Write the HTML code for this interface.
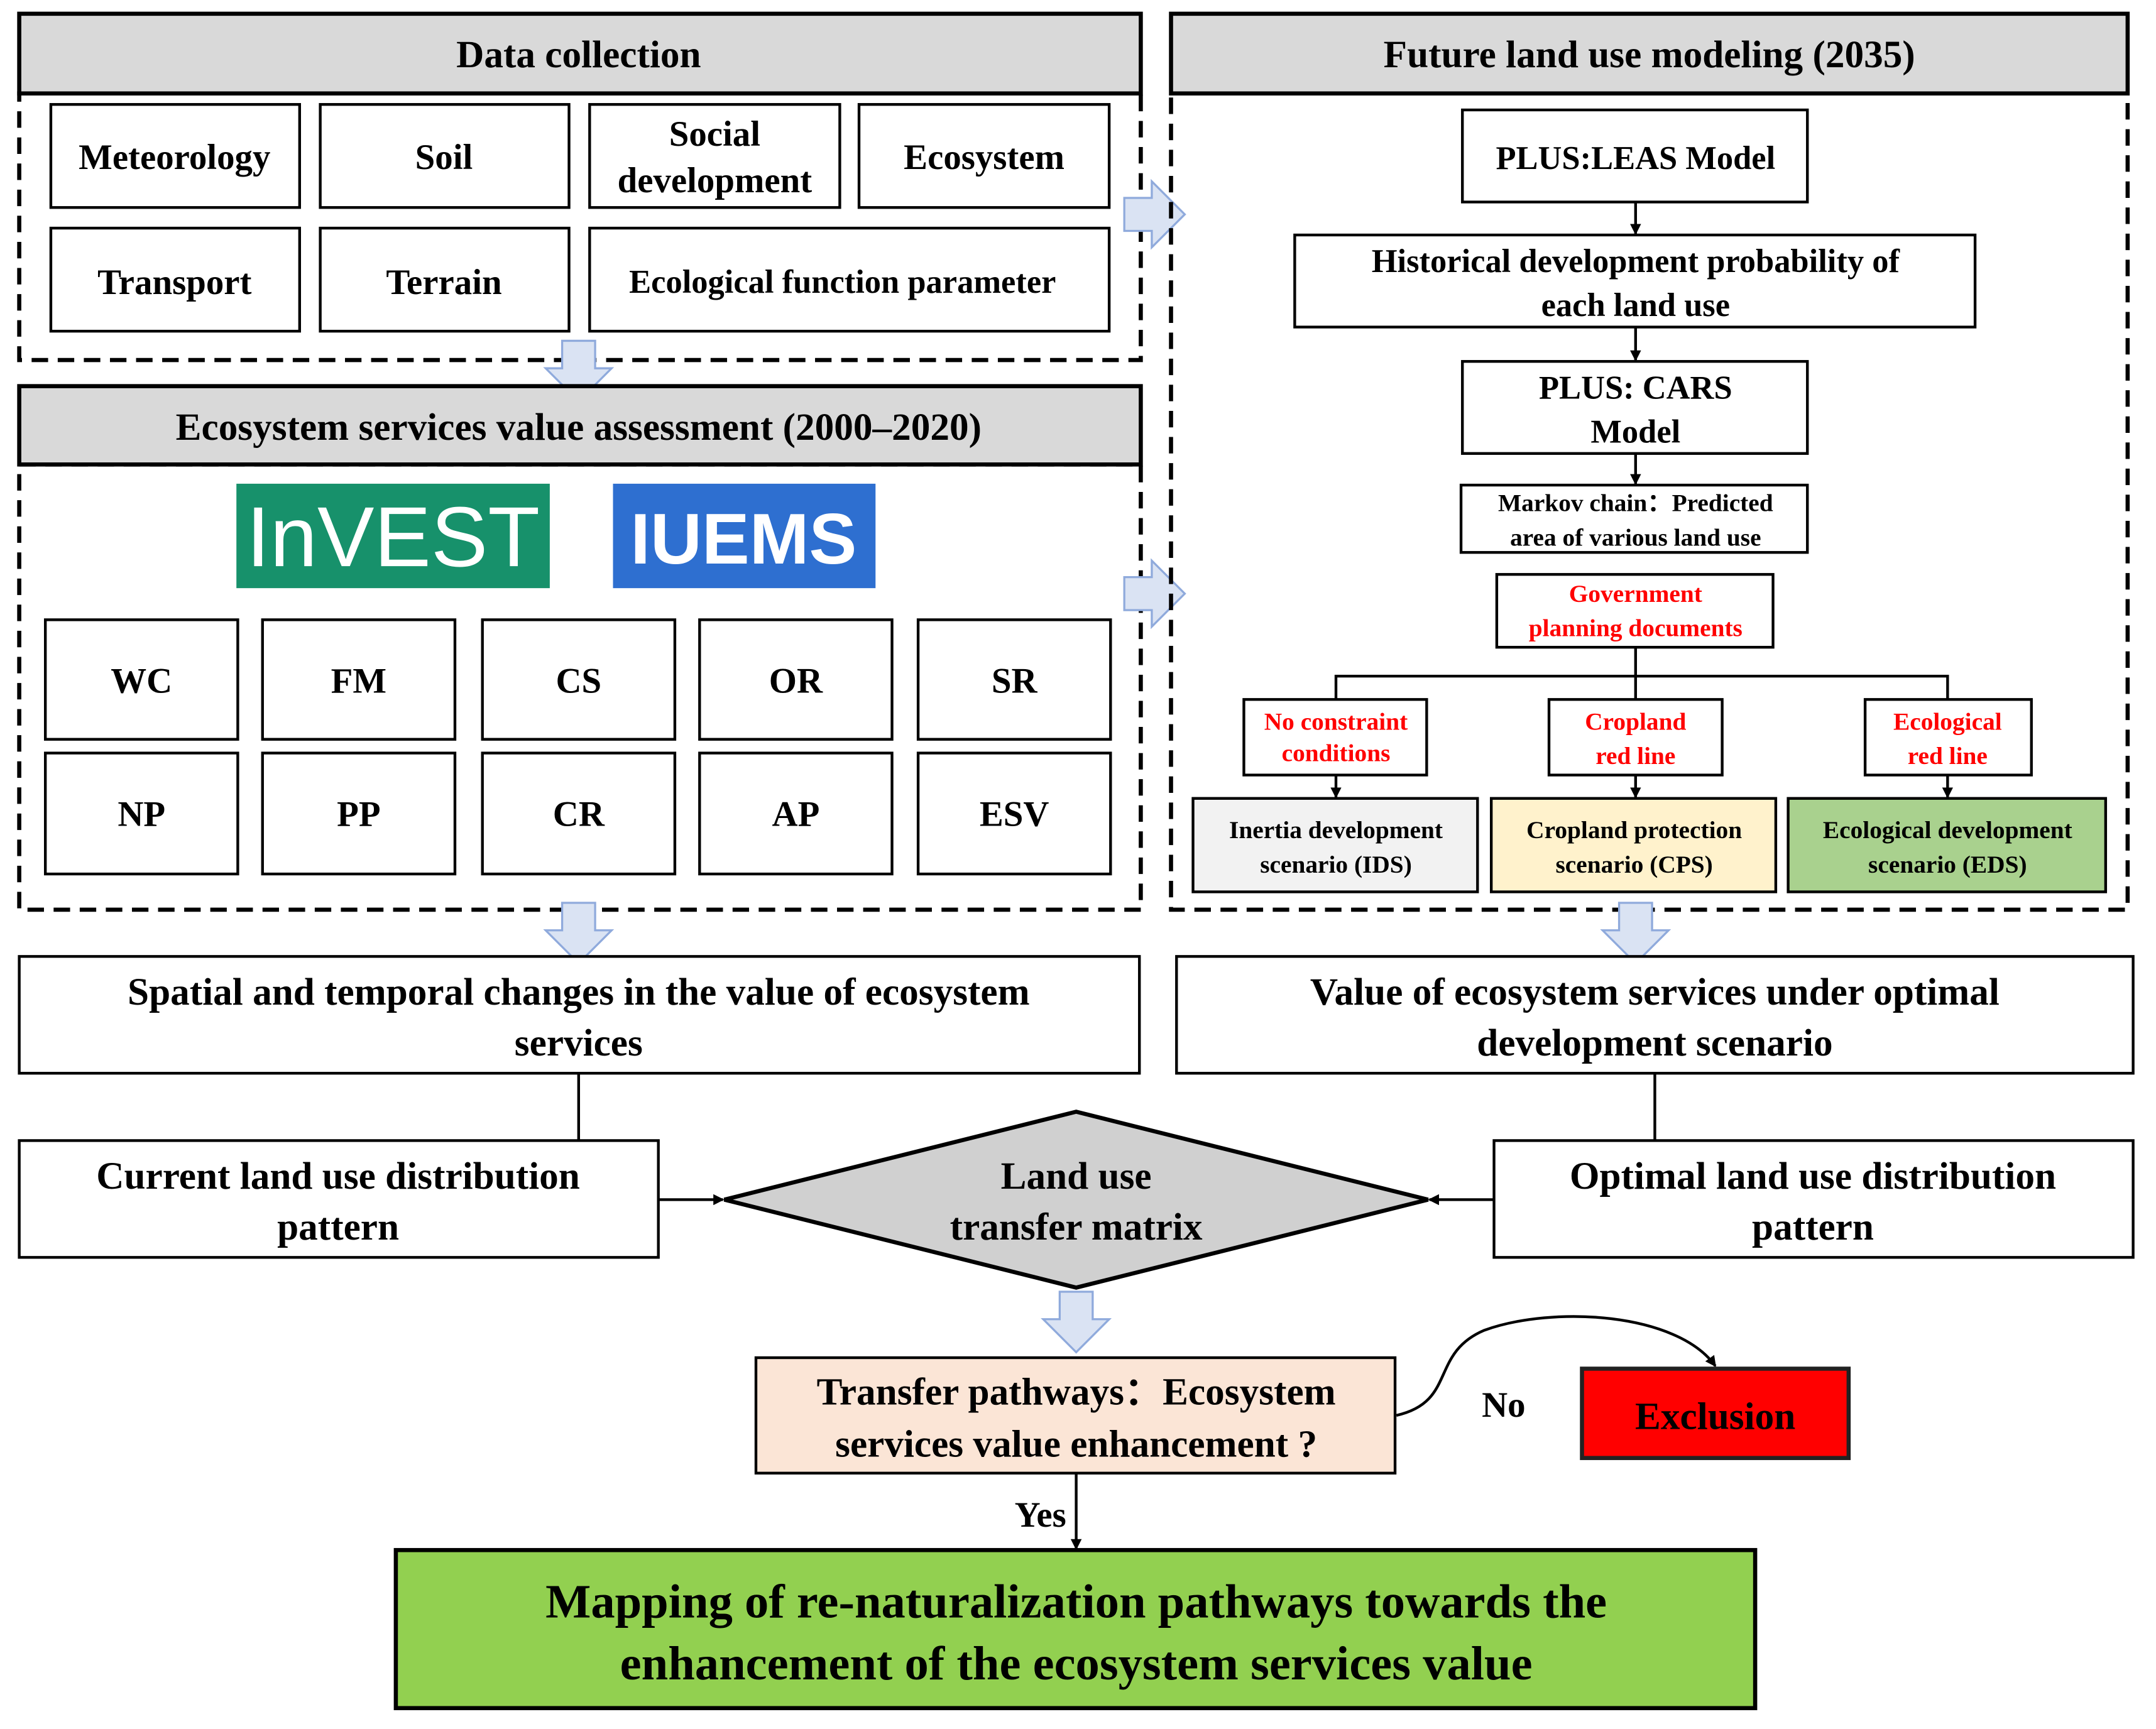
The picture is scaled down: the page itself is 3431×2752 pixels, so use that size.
<!DOCTYPE html>
<html><head><meta charset="utf-8"><style>
html,body{margin:0;padding:0;background:#fff;}
svg{display:block;}
text{font-family:"Liberation Serif",serif;font-weight:bold;fill:#000;text-anchor:middle;}
</style></head><body>
<svg width="3431" height="2752" viewBox="0 0 1568.6 1258.2" preserveAspectRatio="xMinYMin meet" xmlns="http://www.w3.org/2000/svg">
<defs>
<marker id="ah" markerWidth="8" markerHeight="8" refX="7" refY="4" orient="auto" markerUnits="userSpaceOnUse"><path d="M0,0 L8,4 L0,8 Z" fill="#000"/></marker>
<g id="dn"><path d="M-12,0 L12,0 L12,20 L24,20 L0,44 L-24,20 L-12,20 Z" fill="#dae3f3" stroke="#8faadc" stroke-width="1.5"/></g>
<g id="rt"><path d="M0,-12 L20,-12 L20,-24 L44,0 L20,24 L20,12 L0,12 Z" fill="#dae3f3" stroke="#8faadc" stroke-width="1.5"/></g>
</defs>

<!-- Data collection -->
<rect x="14" y="68" width="816" height="194" fill="none" stroke="#000" stroke-width="3" stroke-dasharray="12,7"/>
<rect x="14" y="10" width="816" height="58" fill="#d9d9d9" stroke="#000" stroke-width="3"/>
<text x="421" y="49" font-size="28">Data collection</text>
<g fill="#fff" stroke="#000" stroke-width="2">
<rect x="37" y="76" width="181" height="75"/><rect x="233" y="76" width="181" height="75"/>
<rect x="429" y="76" width="182" height="75"/><rect x="625" y="76" width="182" height="75"/>
<rect x="37" y="166" width="181" height="75"/><rect x="233" y="166" width="181" height="75"/>
<rect x="429" y="166" width="378" height="75"/>
</g>
<g font-size="26">
<text x="127" y="123">Meteorology</text><text x="323" y="123">Soil</text>
<text x="520" y="106">Social</text><text x="520" y="140">development</text>
<text x="716" y="123">Ecosystem</text>
<text x="127" y="214">Transport</text><text x="323" y="214">Terrain</text>
<text x="613" y="213" font-size="24">Ecological function parameter</text>
</g>
<use href="#dn" x="421" y="248"/>

<!-- ESV assessment -->
<rect x="14" y="338" width="816" height="324" fill="none" stroke="#000" stroke-width="3" stroke-dasharray="12,7"/>
<rect x="14" y="281" width="816" height="57" fill="#d9d9d9" stroke="#000" stroke-width="3"/>
<text x="421" y="320" font-size="28">Ecosystem services value assessment (2000–2020)</text>
<rect x="172" y="352" width="228" height="76" fill="#17916b"/>
<text x="286" y="412" font-size="62" style="fill:#fff;font-family:'Liberation Sans',sans-serif;font-weight:normal">InVEST</text>
<rect x="446" y="352" width="191" height="76" fill="#2e6fd0"/>
<text x="541" y="410" font-size="52" style="fill:#fff;font-family:'Liberation Sans',sans-serif;font-weight:bold">IUEMS</text>
<g fill="#fff" stroke="#000" stroke-width="2">
<rect x="33" y="451" width="140" height="87"/><rect x="191" y="451" width="140" height="87"/><rect x="351" y="451" width="140" height="87"/><rect x="509" y="451" width="140" height="87"/><rect x="668" y="451" width="140" height="87"/>
<rect x="33" y="548" width="140" height="88"/><rect x="191" y="548" width="140" height="88"/><rect x="351" y="548" width="140" height="88"/><rect x="509" y="548" width="140" height="88"/><rect x="668" y="548" width="140" height="88"/>
</g>
<g font-size="26">
<text x="103" y="504">WC</text><text x="261" y="504">FM</text><text x="421" y="504">CS</text><text x="579" y="504">OR</text><text x="738" y="504">SR</text>
<text x="103" y="601">NP</text><text x="261" y="601">PP</text><text x="421" y="601">CR</text><text x="579" y="601">AP</text><text x="738" y="601">ESV</text>
</g>
<use href="#dn" x="421" y="657"/>

<!-- right arrows -->
<use href="#rt" x="818" y="156"/>
<use href="#rt" x="818" y="432"/>

<!-- Future land use -->
<rect x="852" y="68" width="696" height="594" fill="none" stroke="#000" stroke-width="3" stroke-dasharray="12,7"/>
<rect x="852" y="10" width="696" height="58" fill="#d9d9d9" stroke="#000" stroke-width="3"/>
<text x="1200" y="49" font-size="28">Future land use modeling (2035)</text>
<g fill="#fff" stroke="#000" stroke-width="2">
<rect x="1064" y="80" width="251" height="67"/>
<rect x="942" y="171" width="495" height="67"/>
<rect x="1064" y="263" width="251" height="67"/>
<rect x="1063" y="353" width="252" height="49"/>
<rect x="1089" y="418" width="201" height="53"/>
<rect x="905" y="509" width="133" height="55"/>
<rect x="1127" y="509" width="126" height="55"/>
<rect x="1357" y="509" width="121" height="55"/>
</g>
<rect x="868" y="581" width="207" height="68" fill="#f2f2f2" stroke="#000" stroke-width="2"/>
<rect x="1085" y="581" width="207" height="68" fill="#fff2cc" stroke="#000" stroke-width="2"/>
<rect x="1301" y="581" width="231" height="68" fill="#a9d18e" stroke="#000" stroke-width="2"/>
<g stroke="#000" stroke-width="2" fill="none">
<line x1="1190" y1="147" x2="1190" y2="170" marker-end="url(#ah)"/>
<line x1="1190" y1="238" x2="1190" y2="262" marker-end="url(#ah)"/>
<line x1="1190" y1="330" x2="1190" y2="352" marker-end="url(#ah)"/>
<line x1="1190" y1="471" x2="1190" y2="509"/>
<polyline points="972,509 972,492 1417,492 1417,509"/>
<line x1="972" y1="564" x2="972" y2="580" marker-end="url(#ah)"/>
<line x1="1190" y1="564" x2="1190" y2="580" marker-end="url(#ah)"/>
<line x1="1417" y1="564" x2="1417" y2="580" marker-end="url(#ah)"/>
</g>
<text x="1190" y="123" font-size="24">PLUS:LEAS Model</text>
<text x="1190" y="198" font-size="24">Historical development probability of</text>
<text x="1190" y="230" font-size="24">each land use</text>
<text x="1190" y="290" font-size="24">PLUS: CARS</text>
<text x="1190" y="322" font-size="24">Model</text>
<text x="1190" y="372" font-size="18">Markov chain：Predicted</text>
<text x="1190" y="397" font-size="18">area of various land use</text>
<g font-size="18">
<text x="1190" y="438" style="fill:#ff0000">Government</text><text x="1190" y="463" style="fill:#ff0000">planning documents</text>
<text x="972" y="531" style="fill:#ff0000">No constraint</text><text x="972" y="554" style="fill:#ff0000">conditions</text>
<text x="1190" y="531" style="fill:#ff0000">Cropland</text><text x="1190" y="556" style="fill:#ff0000">red line</text>
<text x="1417" y="531" style="fill:#ff0000">Ecological</text><text x="1417" y="556" style="fill:#ff0000">red line</text>
</g>
<g font-size="18">
<text x="972" y="610">Inertia development</text><text x="972" y="635">scenario (IDS)</text>
<text x="1189" y="610">Cropland protection</text><text x="1189" y="635">scenario (CPS)</text>
<text x="1417" y="610">Ecological development</text><text x="1417" y="635">scenario (EDS)</text>
</g>
<use href="#dn" x="1190" y="657"/>

<!-- middle -->
<rect x="14" y="696" width="815" height="85" fill="#fff" stroke="#000" stroke-width="2"/>
<text x="421" y="731" font-size="28">Spatial and temporal changes in the value of ecosystem</text>
<text x="421" y="768" font-size="28">services</text>
<rect x="856" y="696" width="696" height="85" fill="#fff" stroke="#000" stroke-width="2"/>
<text x="1204" y="731" font-size="28">Value of ecosystem services under optimal</text>
<text x="1204" y="768" font-size="28">development scenario</text>
<g stroke="#000" stroke-width="2" fill="none">
<line x1="421" y1="781" x2="421" y2="830"/>
<line x1="1204" y1="781" x2="1204" y2="830"/>
<line x1="479" y1="873" x2="526" y2="873" marker-end="url(#ah)"/>
<line x1="1087" y1="873" x2="1040" y2="873" marker-end="url(#ah)"/>
<line x1="783" y1="1072" x2="783" y2="1127" marker-end="url(#ah)"/>
<path d="M1016,1030 C1060,1020 1040,985 1080,968 C1130,950 1220,955 1248,994" marker-end="url(#ah)"/>
</g>
<rect x="14" y="830" width="465" height="85" fill="#fff" stroke="#000" stroke-width="2"/>
<text x="246" y="865" font-size="28">Current land use distribution</text>
<text x="246" y="902" font-size="28">pattern</text>
<rect x="1087" y="830" width="465" height="85" fill="#fff" stroke="#000" stroke-width="2"/>
<text x="1319" y="865" font-size="28">Optimal land use distribution</text>
<text x="1319" y="902" font-size="28">pattern</text>
<polygon points="527,873 783,809 1039,873 783,937" fill="#d0d0d0" stroke="#000" stroke-width="3"/>
<text x="783" y="865" font-size="28">Land use</text>
<text x="783" y="902" font-size="28">transfer matrix</text>
<use href="#dn" x="783" y="940"/>
<rect x="550" y="988" width="465" height="84" fill="#fbe5d6" stroke="#000" stroke-width="2"/>
<text x="783" y="1022" font-size="28">Transfer pathways：Ecosystem</text>
<text x="783" y="1060" font-size="28">services value enhancement ?</text>
<text x="1094" y="1031" font-size="26">No</text>
<rect x="1151" y="996" width="194" height="65" fill="#ff0000" stroke="#222" stroke-width="3"/>
<text x="1248" y="1040" font-size="28">Exclusion</text>
<text x="757" y="1111" font-size="26">Yes</text>
<rect x="288" y="1128" width="989" height="115" fill="#92d050" stroke="#000" stroke-width="3"/>
<text x="783" y="1177" font-size="35">Mapping of re-naturalization pathways towards the</text>
<text x="783" y="1222" font-size="35">enhancement of the ecosystem services value</text>
</svg>
</body></html>
